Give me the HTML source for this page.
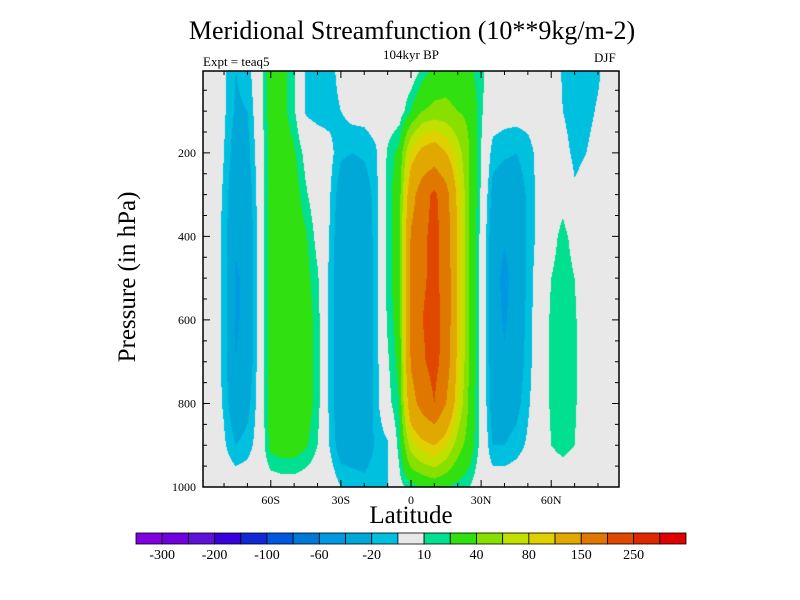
<!DOCTYPE html>
<html><head><meta charset="utf-8"><style>
body{margin:0;background:#fff;}
#wrap{position:relative;width:800px;height:600px;overflow:hidden;font-family:"Liberation Serif",serif;color:#000;}
.t{position:absolute;white-space:nowrap;}
</style></head><body>
<div id="wrap">
<div class="t" style="left:0;width:824px;text-align:center;top:16px;font-size:26px;">Meridional Streamfunction (10**9kg/m-2)</div>
<div class="t" style="left:0;width:822px;text-align:center;top:47px;font-size:13px;">104kyr BP</div>
<div class="t" style="left:203px;top:54px;font-size:13px;">Expt = teaq5</div>
<div class="t" style="left:594px;top:50px;font-size:13px;">DJF</div>
<div class="t" style="left:128px;top:277px;font-size:25px;transform:translate(-50%,-50%) rotate(-90deg);">Pressure (in hPa)</div>
<div class="t" style="left:0;width:822px;text-align:center;top:502px;font-size:25px;">Latitude</div>
<canvas id="cv" width="800" height="600" style="position:absolute;left:0;top:0;"></canvas>
<svg id="sv" width="800" height="600" style="position:absolute;left:0;top:0;"></svg>
</div>
<script>
const lats=[-90,-85,-80,-75,-70,-65,-60,-55,-50,-45,-40,-35,-30,-25,-20,-15,-10,-5,0,5,10,15,20,25,30,35,40,45,50,55,60,65,70,75,80,85,90];
const pressures=[0,100,200,300,400,500,600,700,800,900,1000];
// columns: one array per latitude, values at each pressure level
const cols=[
[0,0,0,0,0,0,0,0,0,0,0],
[0,0,0,0,0,0,0,0,0,0,0],
[-8,-8,-10,-12,-14,-14,-14,-14,-12,-8,0],
[-20,-22,-28,-34,-38,-42,-42,-40,-33,-20,0],
[-15,-20,-25,-30,-34,-36,-36,-33,-25,-15,0],
[2,0,-2,-4,-4,-4,-4,-4,-4,-4,0],
[28,28,28,28,28,28,28,28,28,25,0],
[25,25,30,30,30,30,30,30,30,28,2],
[12,12,22,28,30,30,30,30,30,28,2],
[-12,-12,5,12,22,25,28,28,28,22,0],
[-15,-15,0,0,5,12,15,15,15,10,0],
[-15,-15,-5,-8,-10,-12,-12,-12,-12,-10,0],
[-5,-10,-18,-28,-32,-32,-32,-32,-32,-28,-10],
[0,-5,-20,-30,-35,-35,-35,-35,-35,-30,-12],
[0,-5,-18,-28,-32,-32,-32,-32,-32,-30,-15],
[0,-2,-12,-15,-15,-15,-15,-15,-15,-18,-12],
[0,0,12,15,15,15,12,8,5,-12,-10],
[0,2,25,30,30,30,28,25,20,15,5],
[0,20,85,130,155,160,160,155,130,70,15],
[12,40,110,180,190,195,200,195,170,90,20],
[25,45,120,210,215,210,215,215,200,100,25],
[30,45,100,170,180,185,185,180,150,80,20],
[25,40,70,90,95,95,95,90,80,50,15],
[22,35,40,40,40,40,40,38,35,30,10],
[14,12,10,8,5,5,5,5,5,5,0],
[0,-2,-15,-25,-30,-32,-32,-30,-28,-20,0],
[-2,-4,-18,-30,-38,-45,-42,-38,-30,-20,0],
[-2,-4,-20,-28,-32,-32,-32,-30,-25,-15,0],
[-2,-4,-15,-18,-18,-18,-16,-15,-12,-8,0],
[0,-2,-5,-5,-5,0,0,0,0,0,0],
[0,0,0,0,5,10,12,12,12,10,0],
[-12,-10,-5,5,14,16,16,16,16,14,0],
[-18,-16,-13,-8,5,10,12,12,12,10,0],
[-18,-15,-10,-5,0,0,0,0,0,0,0],
[-13,-8,-3,0,0,0,0,0,0,0,0],
[0,0,0,0,0,0,0,0,0,0,0],
[0,0,0,0,0,0,0,0,0,0,0]];
const levels=[-300,-250,-200,-150,-100,-80,-60,-40,-20,-10,10,20,40,60,80,100,150,200,250,300];
const colors=["#8000e0","#7000e0","#6010d8","#3800e0","#1028d8","#0058e0","#0078d8","#0098e0","#00a8d8","#00c0e0","#e8e8e8","#00e090","#30e010","#88e000","#c0e000","#e0d000","#e0a800","#e07800","#e04800","#e02800","#e00000"];
const labelIdx=[0,2,4,6,8,10,12,14,16,18];
const xTicks=[-60,-30,0,30,60], xTickLabels=["60S","30S","0","30N","60N"];
const yTicks=[200,400,600,800,1000];

const X0=203,X1=619,Y0=71,Y1=487,LAT0=-89,LAT1=89,P0=4,P1=1000;
const xs=l=>X0+(l-LAT0)/(LAT1-LAT0)*(X1-X0);
const ys=p=>Y0+(p-P0)/(P1-P0)*(Y1-Y0);
function lvl(v){let i=0;while(i<levels.length&&v>=levels[i])i++;return i;}
function val(lat,p){
  let i=Math.floor((lat-lats[0])/(lats[1]-lats[0]));i=Math.max(0,Math.min(lats.length-2,i));
  let j=Math.floor((p-pressures[0])/(pressures[1]-pressures[0]));j=Math.max(0,Math.min(pressures.length-2,j));
  const fx=(lat-lats[i])/(lats[i+1]-lats[i]),fy=(p-pressures[j])/(pressures[j+1]-pressures[j]);
  const a=cols[i][j],b=cols[i+1][j],c=cols[i][j+1],d=cols[i+1][j+1];
  return a*(1-fx)*(1-fy)+b*fx*(1-fy)+c*(1-fx)*fy+d*fx*fy;
}
const ctx=document.getElementById('cv').getContext('2d');
for(let y=Y0;y<Y1;y++){for(let x=X0;x<X1;x++){
  const lat=LAT0+(x+0.5-X0)/(X1-X0)*(LAT1-LAT0),p=P0+(y+0.5-Y0)/(Y1-Y0)*(P1-P0);
  ctx.fillStyle=colors[lvl(val(lat,p))];ctx.fillRect(x,y,1,1);}}
const NS='http://www.w3.org/2000/svg',sv=document.getElementById('sv');
function mk(t,a,txt){const e=document.createElementNS(NS,t);for(const k in a)e.setAttribute(k,a[k]);if(txt!=null)e.textContent=txt;sv.appendChild(e);return e;}
const fr=mk('rect',{x:X0,y:Y0,width:X1-X0,height:Y1-Y0,fill:'none',stroke:'#000','stroke-width':1.5});


for(let l=-80;l<=80;l+=10){const x=xs(l),L=(l%30==0)?7:4;
  const t=mk('path',{d:`M${x} ${Y1}v${-L}M${x} ${Y0}v${L}`,stroke:'#000','stroke-width':1});
  
  }
xTicks.forEach((l,i)=>{const t=mk('text',{x:xs(l),y:504,'text-anchor':'middle','font-size':12,'font-family':'Liberation Serif'},xTickLabels[i]);
  
  });
for(let p=50;p<1000;p+=50){const y=ys(p),L=(p%200==0)?7:4;
  const t=mk('path',{d:`M${X0} ${y}h${L}M${X1} ${y}h${-L}`,stroke:'#000','stroke-width':1});
  
  }
yTicks.forEach(p=>{const t=mk('text',{x:196,y:ys(p)+4,'text-anchor':'end','font-size':12,'font-family':'Liberation Serif'},String(p));
  
  });
const CB0=136,CB1=686,CBY=533,CBH=11,bw=(CB1-CB0)/colors.length;
colors.forEach((c,i)=>{const r=mk('rect',{x:CB0+i*bw,y:CBY,width:bw,height:CBH,fill:c,stroke:'#000','stroke-width':0.8});
  
  });
labelIdx.forEach(i=>{const t=mk('text',{x:CB0+(i+1)*bw,y:559,'text-anchor':'middle','font-size':14,'font-family':'Liberation Serif'},String(levels[i]));
  
  });
</script>
</body></html>
